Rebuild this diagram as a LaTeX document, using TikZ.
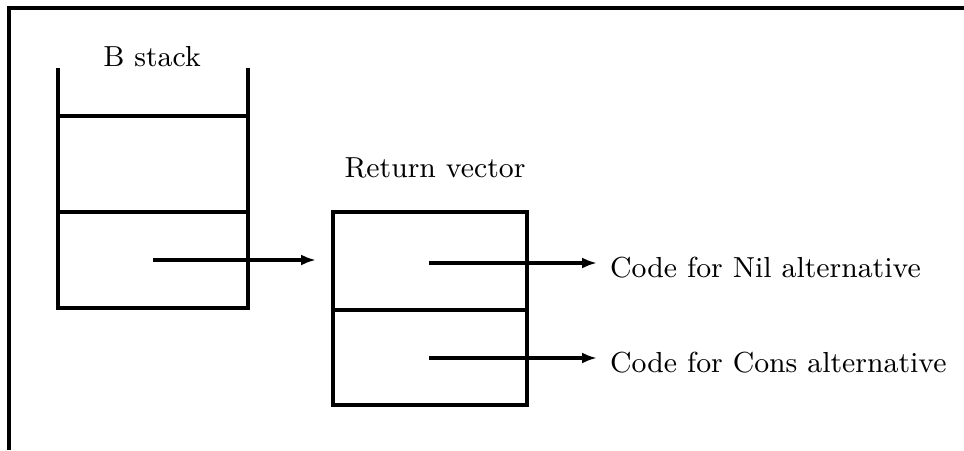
\documentclass[tikz,border=0pt]{standalone}
\usetikzlibrary{arrows.meta}
\usepackage{graphicx}
\newcommand{\bigtxt}[1]{\scalebox{3.22}{\fontsize{9}{10}\selectfont #1}}
\begin{document}
\begin{tikzpicture}[x=1pt,y=-1pt,
  thick line/.style={line width=4pt},
  cell/.style={draw,line width=4pt,minimum width=190pt,inner sep=0pt,outer sep=0pt},
  label/.style={inner sep=0pt},
  ptr/.style={line width=4pt,-{Latex[length=15pt,width=11pt]}}]
\useasboundingbox (0,0) rectangle (964,450);
% frame
\draw[thick line] (9,450) -- (9,7.5) -- (964,7.5);
% B stack
\node[label] (bst) at (152,57) {\bigtxt{B stack}};
\draw[thick line] (58,68) -- (58,116);
\draw[thick line] (248,68) -- (248,116);
\node[cell,minimum height=96pt] (s1) at (153,164) {};
\node[cell,minimum height=96pt] (s2) at (153,260) {};
% Return vector
\node[label] (rvl) at (435,168) {\bigtxt{Return vector}};
\node[cell,minimum width=194pt,minimum height=98pt] (r1) at (430,261) {};
\node[cell,minimum width=194pt,minimum height=95pt] (r2) at (430,357.5) {};
% pointers
\coordinate (p0) at (153,260);
\coordinate (p0end) at (316,260);
\draw[ptr] (p0) -- (p0end);
\coordinate (p1) at (429,263);
\coordinate (p2) at (429,358);
\node[label,anchor=west] (nil) at (610,268) {\bigtxt{Code for Nil alternative}};
\node[label,anchor=west] (cons) at (610,363) {\bigtxt{Code for Cons alternative}};
\draw[ptr] (p1) -- ([xshift=-13pt]nil.west |- p1);
\draw[ptr] (p2) -- ([xshift=-13pt]cons.west |- p2);
\end{tikzpicture}
\end{document}
